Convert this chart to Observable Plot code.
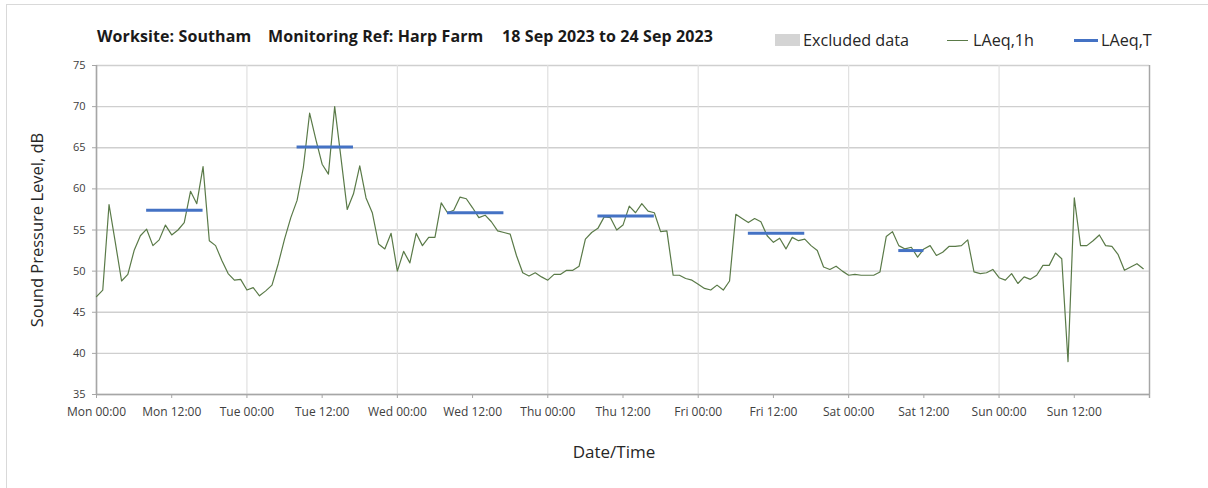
<!DOCTYPE html>
<html>
<head>
<meta charset="utf-8">
<script src="https://cdn.jsdelivr.net/npm/d3@7"></script>
<script src="https://cdn.jsdelivr.net/npm/@observablehq/plot@0.6"></script>
<style>
  html, body { margin: 0; padding: 0; background: #fff; }
  #wrap { position: relative; width: 1208px; height: 488px; overflow: hidden; font-family: "Open Sans", sans-serif; color: #262626; }
  #frame { position: absolute; left: 6px; top: 4px; width: 1300px; height: 600px; border-left: 1.5px solid #d9d9d9; border-top: 1.5px solid #d9d9d9; }
  #chart { position: absolute; left: 0; top: 0; }
  .t { position: absolute; white-space: nowrap; line-height: 20px; }
  .title { font-weight: 700; font-size: 16px; top: 26px; color: #1a1a1a; letter-spacing: 0.1px; }
  .leg { font-size: 16.2px; top: 30px; color: #262626; }
  .sw { position: absolute; }
</style>
</head>
<body>
<div id="wrap">
  <div id="frame"></div>
  <div id="chart"></div>
</div>
<script>
// ---- data ----
const titleParts = ["Worksite: Southam", "Monitoring Ref: Harp Farm", "18 Sep 2023 to 24 Sep 2023"];
const legendLabels = ["Excluded data", "LAeq,1h", "LAeq,T"];
const yLabel = "Sound Pressure Level, dB";
const xLabel = "Date/Time";
const startDate = "2023-09-18T00:00:00Z";
// hourly LAeq,1h values, Mon 00:00 .. Sun 23:00
const laeq1h = [
  46.9, 47.7, 58.1, 53.5, 48.8, 49.6, 52.5, 54.3, 55.1, 53.1, 53.8, 55.6, 54.4, 55.0, 55.9, 59.7, 58.2, 62.7, 53.7, 53.1, 51.3, 49.7, 48.9, 49.0,
  47.7, 48.0, 47.0, 47.6, 48.3, 50.9, 53.9, 56.5, 58.6, 62.6, 69.2, 66.0, 63.0, 61.8, 70.0, 63.8, 57.5, 59.4, 62.8, 58.9, 57.1, 53.3, 52.7, 54.6,
  50.0, 52.4, 51.0, 54.6, 53.1, 54.1, 54.1, 58.3, 57.1, 57.4, 59.0, 58.8, 57.7, 56.5, 56.8, 56.0, 54.9, 54.7, 54.5, 51.9, 49.8, 49.4, 49.8, 49.3,
  48.9, 49.6, 49.6, 50.1, 50.1, 50.6, 53.9, 54.7, 55.2, 56.6, 56.5, 55.0, 55.6, 57.9, 57.1, 58.2, 57.3, 57.1, 54.8, 54.9, 49.5, 49.5, 49.1, 48.9,
  48.4, 47.9, 47.7, 48.3, 47.7, 48.8, 56.9, 56.4, 55.9, 56.4, 56.0, 54.3, 53.5, 54.0, 52.7, 54.1, 53.7, 53.9, 53.1, 52.5, 50.5, 50.2, 50.6, 50.0,
  49.5, 49.6, 49.5, 49.5, 49.5, 49.9, 54.2, 54.8, 53.1, 52.7, 52.9, 51.7, 52.7, 53.1, 51.9, 52.3, 53.0, 53.0, 53.1, 53.8, 49.9, 49.7, 49.8, 50.2,
  49.2, 48.9, 49.7, 48.5, 49.3, 49.0, 49.5, 50.7, 50.7, 52.2, 51.5, 39.0, 58.9, 53.1, 53.1, 53.7, 54.4, 53.1, 53.0, 52.0, 50.1, 50.5, 50.9, 50.3
];
// LAeq,T periods
const periodStart = ["2023-09-18T08:00:00Z", "2023-09-19T08:00:00Z", "2023-09-20T08:00:00Z", "2023-09-21T08:00:00Z", "2023-09-22T08:00:00Z", "2023-09-23T08:00:00Z"];
const periodEnd   = ["2023-09-18T17:00:00Z", "2023-09-19T17:00:00Z", "2023-09-20T17:00:00Z", "2023-09-21T17:00:00Z", "2023-09-22T17:00:00Z", "2023-09-23T12:00:00Z"];
const laeqT = [57.4, 65.1, 57.1, 56.7, 54.6, 52.5];
const yTicks = [35, 40, 45, 50, 55, 60, 65, 70, 75];

// ---- build ----
const t0 = new Date(startDate);
const series = laeq1h.map((v, i) => ({t: new Date(+t0 + i * 3600e3), v}));
const periods = laeqT.map((v, i) => ({x1: new Date(periodStart[i]), x2: new Date(periodEnd[i]), v}));
const tEnd = new Date(+t0 + 7 * 864e5);
const dayTicks = d3.utcDay.range(t0, new Date(+tEnd + 1));
const xTicks = d3.utcHour.every(12).range(t0, tEnd);

const chart = Plot.plot({
  width: 1208, height: 488,
  marginLeft: 96, marginRight: 59, marginTop: 65, marginBottom: 94,
  x: {type: "utc", domain: [t0, tEnd]},
  y: {domain: [35, 75]},
  style: {fontFamily: "Open Sans, sans-serif", fontSize: "11px", color: "#404040", background: "transparent"},
  marks: [
    Plot.gridY(yTicks, {stroke: "#cfcfcf", strokeOpacity: 1, strokeWidth: 1.4}),
    Plot.gridX(dayTicks, {stroke: "#e0e0e0", strokeOpacity: 1, strokeWidth: 1.2}),
    Plot.axisY(yTicks, {tickSize: 4, tickPadding: 7, label: null, stroke: "#a6a6a6", fontSize: 11}),
    Plot.axisX(xTicks, {tickSize: 4, tickPadding: 9, label: null, stroke: "#a6a6a6", fontSize: 12, tickFormat: d3.utcFormat("%a %H:%M")}),
    Plot.tickX([tEnd], {y1: 35, stroke: "#a6a6a6", strokeWidth: 1.4, insetBottom: -4, frameAnchor: "bottom"}),
    Plot.ruleY([35], {stroke: "#a6a6a6", strokeWidth: 1.6}),
    Plot.ruleX([t0], {stroke: "#a6a6a6", strokeWidth: 1.6}),
    Plot.line(series, {x: "t", y: "v", stroke: "#5a7a48", strokeWidth: 1.2}),
    Plot.ruleY(periods, {x1: "x1", x2: "x2", y: "v", stroke: "#4472c4", strokeWidth: 3}),
    Plot.text([yLabel], {frameAnchor: "left", dx: -59, rotate: -90, textAnchor: "middle", lineAnchor: "middle", fontSize: 16.5, fill: "#262626"}),
    Plot.text([xLabel], {frameAnchor: "bottom", dx: -9, dy: 58, textAnchor: "middle", lineAnchor: "middle", fontSize: 17, fill: "#262626"})
  ]
});
document.getElementById("chart").appendChild(chart);

// title and legend (HTML overlay)
const wrap = document.getElementById("wrap");
const titleX = [97, 268, 502];
titleParts.forEach((s, i) => {
  const d = document.createElement("div");
  d.className = "t title"; d.style.left = titleX[i] + "px"; d.textContent = s;
  wrap.appendChild(d);
});
const legX = [803, 973, 1101];
const sw = [
  {left: 775, top: 34, width: 25, height: 12, background: "#d4d4d4"},
  {left: 947, top: 40, width: 21, height: 1.3, background: "#5a7a48"},
  {left: 1074, top: 39, width: 24, height: 3, background: "#4472c4"}
];
legendLabels.forEach((s, i) => {
  const b = document.createElement("div");
  b.className = "sw";
  Object.entries(sw[i]).forEach(([k, v]) => b.style[k] = typeof v === "number" ? v + "px" : v);
  wrap.appendChild(b);
  const d = document.createElement("div");
  d.className = "t leg"; d.style.left = legX[i] + "px"; d.textContent = s;
  wrap.appendChild(d);
});
</script>
</body>
</html>
